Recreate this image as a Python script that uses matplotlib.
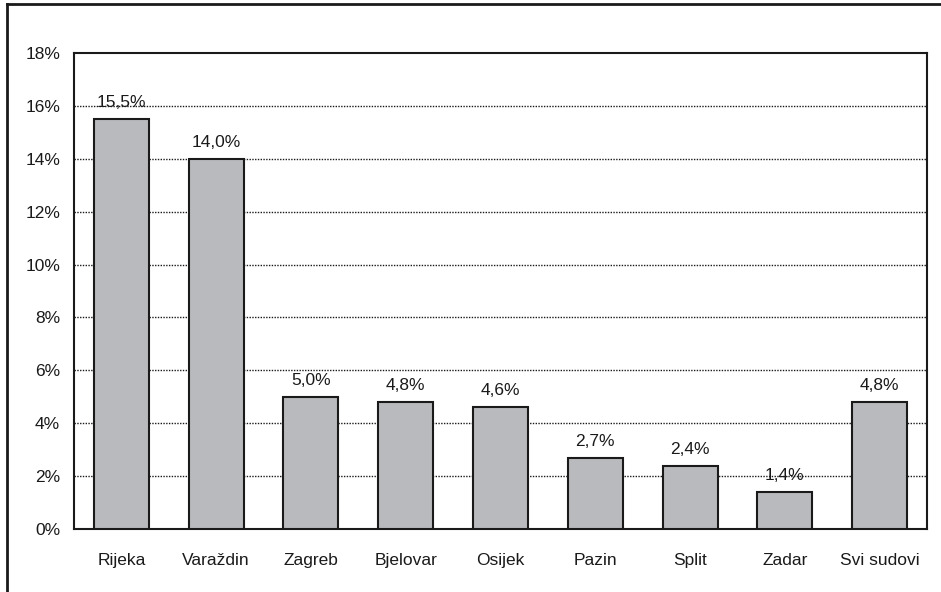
import matplotlib
matplotlib.use("Agg")
import matplotlib.pyplot as plt
from matplotlib.lines import Line2D

categories = ["Rijeka", "Varaždin", "Zagreb", "Bjelovar", "Osijek", "Pazin", "Split", "Zadar", "Svi sudovi"]
values = [15.5, 14.0, 5.0, 4.8, 4.6, 2.7, 2.4, 1.4, 4.8]
yticks = [0, 2, 4, 6, 8, 10, 12, 14, 16, 18]

plt.rcParams['font.family'] = ['Liberation Sans', 'DejaVu Sans']

fig = plt.figure(figsize=(9.41, 5.92), dpi=100)
ax = fig.add_axes([74/941, 1-529/592, (927-74)/941, (529-53)/592])

x = list(range(len(categories)))
ax.bar(x, values, width=0.58, color="#b9babd", edgecolor="#1a1a1a", linewidth=1.5, zorder=3)
for xi, v in zip(x, values):
    ax.annotate(f"{v:.1f}%".replace(".", ","), (xi, v), xytext=(0, 6.5), textcoords="offset points",
                ha="center", va="bottom", fontsize=12.5, color="#1a1a1a", zorder=4)

ax.set_xlim(-0.5, len(categories) - 0.5)
ax.set_ylim(0, 18)
ax.set_yticks(yticks)
ax.set_yticklabels([f"{t}%" for t in yticks])
ax.set_xticks(x)
ax.set_xticklabels(categories)
ax.tick_params(axis="both", length=0, labelsize=12.5, colors="#1a1a1a")
ax.tick_params(axis="y", pad=10)
ax.tick_params(axis="x", pad=17)
for t in yticks[1:-1]:
    ax.axhline(t, color="#1a1a1a", linestyle=(0, (1, 1)), linewidth=1.0, zorder=1)
for s in ax.spines.values():
    s.set_linewidth(1.5)
    s.set_color("#1a1a1a")

# outer frame (top and left visible)
fig.add_artist(Line2D([7/941, 7/941], [0, 1-4/592], transform=fig.transFigure, color="#1a1a1a", linewidth=2))
fig.add_artist(Line2D([7/941, 1], [1-4/592, 1-4/592], transform=fig.transFigure, color="#1a1a1a", linewidth=2))

fig.savefig("out.png", dpi=100)
